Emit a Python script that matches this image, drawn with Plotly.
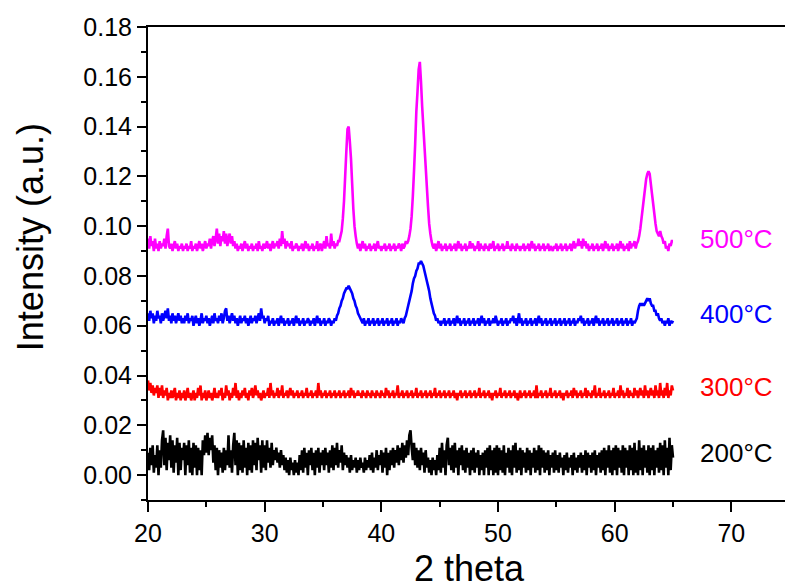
import numpy as np
import plotly.graph_objects as go

# 2-theta sampling grid: 20.0 .. 65.0 deg in 0.1 deg steps
two_theta = np.round(np.linspace(20.0, 65.0, 451), 1)

# XRD intensities (a.u.), one row per degree
i_200 = [
    .009, .002, .011, .004, .012, .001, .008, .003, .012, .000,
    .010, .003, .014, .018, .004, .015, .002, .013, .006, .016,
    .003, .014, .001, .012, .005, .015, .000, .013, .002, .011,
    .006, .013, .000, .012, .004, .014, .001, .011, .000, .013,
    .003, .012, .000, .011, .002, .010, .000, .014, .008, .016,
    .009, .017, .008, .015, .010, .016, .005, .012, .002, .011,
    .000, .010, .003, .009, .001, .011, .002, .010, .004, .016,
    .003, .010, .001, .012, .017, .004, .014, .000, .013, .002,
    .012, .001, .014, .003, .011, .000, .013, .002, .012, .001,
    .014, .004, .013, .002, .015, .006, .012, .001, .014, .003,
    .012, .002, .014, .005, .011, .003, .013, .004, .010, .006,
    .011, .005, .009, .003, .010, .004, .008, .002, .007, .001,
    .006, .000, .007, .002, .005, .000, .006, .001, .005, .000,
    .008, .002, .010, .001, .011, .003, .009, .000, .010, .004,
    .011, .002, .009, .000, .010, .003, .011, .001, .009, .004,
    .010, .002, .011, .004, .009, .001, .010, .003, .012, .002,
    .011, .004, .013, .003, .010, .005, .012, .002, .009, .004,
    .008, .003, .007, .001, .008, .002, .006, .003, .007, .001,
    .006, .002, .007, .003, .005, .001, .007, .002, .006, .003,
    .008, .002, .009, .001, .007, .003, .010, .002, .008, .004,
    .010, .001, .009, .003, .011, .000, .009, .002, .010, .004,
    .011, .003, .010, .005, .012, .004, .011, .006, .013, .005,
    .012, .007, .014, .008, .016, .018, .011, .006, .013, .004,
    .011, .003, .010, .002, .011, .004, .009, .001, .010, .003,
    .007, .001, .006, .000, .007, .002, .006, .000, .008, .002,
    .011, .001, .013, .003, .010, .000, .012, .015, .004, .011,
    .002, .012, .001, .013, .003, .010, .000, .011, .004, .012,
    .002, .010, .001, .011, .003, .009, .000, .010, .002, .011,
    .001, .009, .003, .010, .000, .008, .002, .009, .000, .010,
    .003, .011, .000, .012, .002, .010, .000, .011, .001, .012,
    .000, .011, .002, .010, .001, .012, .000, .009, .003, .011,
    .001, .010, .000, .012, .003, .013, .001, .010, .002, .011,
    .000, .010, .003, .009, .001, .011, .002, .010, .000, .009,
    .003, .011, .001, .010, .002, .012, .000, .011, .003, .010,
    .001, .009, .002, .010, .000, .008, .003, .009, .001, .010,
    .002, .008, .001, .009, .003, .007, .000, .008, .002, .009,
    .001, .007, .003, .008, .000, .009, .002, .007, .001, .008,
    .003, .009, .001, .008, .002, .010, .000, .009, .003, .008,
    .001, .009, .002, .010, .000, .008, .003, .009, .001, .010,
    .002, .011, .000, .010, .003, .012, .001, .010, .000, .011,
    .002, .012, .000, .011, .003, .010, .001, .012, .000, .011,
    .003, .010, .000, .012, .002, .011, .000, .013, .001, .010,
    .000, .014, .002, .011, .000, .012, .003, .010, .001, .012,
    .000, .011, .002, .012, .000, .010, .003, .011, .001, .013,
    .002, .012, .000, .014, .003, .011, .000, .015, .002, .012,
    .007,
]

i_300 = [
    .038, .034, .037, .033, .036, .032, .035, .033, .036, .031,
    .035, .032, .036, .031, .034, .032, .035, .030, .033, .031,
    .034, .031, .033, .035, .030, .033, .031, .034, .030, .033,
    .031, .034, .030, .032, .035, .031, .033, .030, .032, .034,
    .030, .033, .031, .035, .032, .036, .030, .033, .031, .034,
    .030, .032, .034, .031, .033, .030, .032, .035, .031, .033,
    .031, .034, .032, .035, .030, .033, .031, .036, .032, .034,
    .030, .033, .031, .035, .032, .037, .031, .034, .030, .033,
    .031, .034, .032, .035, .031, .033, .030, .034, .032, .035,
    .031, .033, .036, .032, .034, .031, .033, .030, .032, .034,
    .031, .033, .032, .035, .031, .037, .032, .034, .031, .033,
    .032, .035, .031, .034, .032, .036, .031, .033, .032, .034,
    .031, .033, .035, .032, .034, .031, .033, .032, .034, .031,
    .033, .032, .034, .031, .033, .032, .035, .031, .033, .032,
    .034, .031, .033, .032, .034, .031, .037, .032, .034, .031,
    .033, .032, .034, .031, .033, .032, .034, .031, .033, .032,
    .034, .031, .033, .032, .034, .031, .033, .032, .034, .031,
    .033, .032, .034, .031, .035, .032, .034, .031, .033, .032,
    .034, .032, .033, .031, .034, .032, .033, .031, .034, .032,
    .033, .031, .034, .032, .033, .031, .034, .032, .033, .031,
    .034, .032, .033, .031, .035, .032, .034, .031, .033, .032,
    .034, .031, .033, .032, .036, .031, .033, .032, .034, .031,
    .033, .032, .034, .031, .033, .032, .034, .031, .033, .032,
    .035, .031, .033, .032, .034, .031, .033, .032, .034, .031,
    .033, .032, .034, .031, .033, .032, .035, .031, .033, .032,
    .034, .031, .033, .032, .034, .031, .033, .032, .034, .031,
    .033, .032, .034, .031, .033, .030, .033, .032, .034, .031,
    .033, .032, .034, .031, .033, .032, .034, .031, .033, .032,
    .034, .031, .033, .032, .035, .031, .033, .032, .034, .031,
    .033, .032, .034, .031, .033, .030, .033, .032, .034, .031,
    .033, .032, .035, .031, .033, .032, .034, .031, .033, .032,
    .034, .031, .033, .032, .034, .031, .033, .030, .032, .034,
    .031, .033, .032, .034, .031, .033, .032, .034, .031, .033,
    .032, .034, .031, .036, .031, .033, .032, .034, .031, .033,
    .032, .034, .031, .033, .032, .035, .031, .033, .032, .034,
    .031, .033, .032, .034, .031, .033, .030, .033, .032, .034,
    .031, .033, .032, .034, .031, .035, .032, .034, .031, .033,
    .032, .034, .031, .033, .032, .035, .031, .034, .032, .033,
    .031, .034, .032, .036, .031, .033, .032, .035, .031, .033,
    .032, .034, .031, .033, .032, .034, .031, .033, .032, .035,
    .031, .033, .032, .034, .031, .036, .032, .034, .031, .033,
    .032, .035, .031, .034, .032, .033, .031, .035, .032, .034,
    .031, .033, .035, .032, .034, .031, .036, .032, .034, .031,
    .033, .035, .032, .034, .031, .036, .032, .034, .031, .037,
    .032, .034, .031, .035, .032, .037, .031, .034, .032, .036,
    .034,
]

i_400 = [
    .065, .062, .066, .063, .065, .061, .064, .062, .066, .063,
    .064, .061, .065, .062, .064, .066, .063, .067, .062, .064,
    .061, .065, .062, .064, .061, .063, .065, .062, .064, .061,
    .063, .061, .064, .062, .065, .061, .063, .062, .064, .060,
    .062, .064, .061, .063, .060, .062, .065, .061, .063, .062,
    .064, .061, .063, .060, .062, .064, .061, .065, .062, .063,
    .061, .064, .062, .065, .061, .063, .066, .067, .062, .064,
    .061, .063, .065, .062, .064, .061, .063, .060, .062, .064,
    .061, .063, .062, .064, .061, .063, .060, .062, .064, .061,
    .063, .062, .064, .061, .063, .065, .062, .067, .063, .064,
    .061, .063, .062, .064, .060, .062, .061, .063, .060, .062,
    .061, .063, .060, .062, .064, .061, .063, .060, .062, .061,
    .063, .060, .062, .061, .063, .060, .062, .064, .061, .063,
    .060, .062, .061, .063, .060, .062, .061, .063, .062, .060,
    .062, .061, .063, .060, .062, .064, .061, .063, .060, .062,
    .061, .063, .060, .062, .061, .063, .062, .060, .062, .061,
    .063, .062, .064, .065, .067, .068, .070, .071, .073, .074,
    .075, .075, .076, .075, .074, .073, .071, .070, .068, .067,
    .065, .064, .063, .062, .061, .063, .060, .062, .061, .063,
    .060, .062, .061, .063, .060, .062, .061, .063, .060, .062,
    .061, .063, .060, .062, .061, .063, .060, .062, .061, .063,
    .060, .062, .061, .063, .060, .062, .061, .063, .062, .061,
    .063, .064, .066, .068, .070, .072, .074, .077, .079, .080,
    .082, .083, .085, .085, .086, .085, .084, .082, .080, .078,
    .076, .074, .071, .069, .067, .065, .064, .062, .063, .061,
    .062, .060, .062, .061, .063, .060, .062, .061, .063, .060,
    .062, .061, .063, .060, .062, .064, .061, .063, .060, .062,
    .061, .063, .060, .062, .061, .063, .060, .062, .061, .063,
    .060, .062, .061, .063, .060, .062, .064, .061, .063, .060,
    .062, .061, .063, .060, .062, .061, .063, .061, .064, .062,
    .060, .062, .061, .063, .060, .062, .061, .063, .060, .062,
    .061, .063, .062, .064, .061, .063, .060, .062, .065, .061,
    .063, .060, .062, .061, .063, .060, .062, .061, .063, .060,
    .062, .061, .063, .060, .062, .064, .061, .063, .060, .062,
    .061, .063, .060, .062, .061, .063, .060, .062, .061, .063,
    .060, .062, .061, .063, .060, .062, .061, .063, .060, .062,
    .061, .063, .060, .062, .061, .063, .060, .062, .061, .063,
    .062, .064, .061, .063, .060, .062, .061, .063, .060, .062,
    .061, .063, .060, .062, .064, .061, .063, .060, .062, .061,
    .063, .060, .062, .061, .063, .060, .062, .061, .063, .060,
    .062, .061, .063, .060, .062, .061, .063, .060, .062, .061,
    .063, .060, .062, .061, .063, .060, .062, .061, .062, .063,
    .066, .068, .069, .068, .069, .068, .069, .070, .071, .070,
    .071, .069, .068, .068, .066, .066, .064, .065, .063, .062,
    .063, .061, .062, .060, .062, .061, .063, .060, .062, .061,
    .062,
]

i_500 = [
    .095, .091, .096, .092, .094, .090, .095, .091, .093, .090,
    .094, .091, .093, .092, .095, .091, .096, .099, .092, .091,
    .093, .090, .092, .094, .091, .093, .090, .092, .091, .093,
    .090, .092, .091, .093, .090, .092, .091, .094, .090, .092,
    .091, .093, .090, .092, .094, .091, .093, .090, .092, .094,
    .091, .093, .092, .095, .091, .094, .096, .092, .095, .099,
    .093, .097, .092, .096, .094, .098, .093, .097, .092, .095,
    .097, .093, .096, .092, .094, .091, .093, .090, .092, .091,
    .093, .090, .092, .094, .091, .093, .090, .092, .091, .093,
    .090, .092, .091, .093, .090, .094, .091, .092, .090, .093,
    .091, .092, .094, .091, .093, .090, .092, .094, .091, .093,
    .092, .094, .091, .095, .092, .098, .093, .095, .091, .094,
    .092, .093, .091, .094, .090, .092, .091, .093, .092, .090,
    .092, .091, .093, .090, .092, .094, .091, .093, .090, .092,
    .091, .093, .090, .092, .091, .094, .090, .092, .093, .090,
    .092, .094, .091, .096, .092, .093, .091, .097, .092, .094,
    .091, .093, .092, .094, .094, .096, .098, .103, .110, .120,
    .130, .139, .140, .134, .127, .117, .107, .100, .096, .093,
    .091, .093, .090, .092, .094, .091, .093, .090, .092, .091,
    .093, .090, .092, .091, .093, .090, .092, .094, .091, .092,
    .090, .092, .091, .093, .090, .092, .091, .093, .090, .092,
    .091, .093, .090, .092, .091, .093, .092, .090, .093, .091,
    .092, .094, .093, .094, .096, .099, .104, .112, .122, .133,
    .146, .154, .163, .166, .158, .148, .140, .132, .124, .116,
    .108, .101, .097, .094, .092, .091, .093, .090, .092, .094,
    .091, .093, .090, .092, .091, .093, .090, .092, .091, .093,
    .090, .092, .091, .093, .090, .092, .094, .091, .093, .090,
    .092, .091, .093, .090, .092, .091, .094, .091, .093, .092,
    .090, .092, .091, .094, .090, .093, .091, .092, .090, .093,
    .091, .092, .090, .093, .091, .092, .094, .090, .092, .091,
    .093, .090, .092, .091, .093, .090, .092, .091, .094, .091,
    .092, .090, .093, .091, .092, .090, .093, .091, .092, .090,
    .092, .091, .093, .090, .092, .091, .093, .090, .092, .094,
    .091, .093, .090, .092, .091, .093, .090, .092, .091, .093,
    .090, .092, .091, .093, .090, .092, .091, .090, .092, .091,
    .093, .090, .092, .091, .093, .090, .092, .091, .093, .090,
    .092, .091, .093, .090, .092, .094, .091, .093, .092, .095,
    .092, .094, .091, .095, .092, .094, .091, .093, .090, .092,
    .091, .093, .090, .092, .091, .093, .090, .092, .091, .093,
    .090, .092, .094, .091, .093, .090, .092, .091, .093, .090,
    .092, .091, .093, .090, .092, .094, .091, .093, .090, .092,
    .091, .093, .090, .094, .091, .093, .092, .094, .091, .093,
    .094, .096, .099, .103, .107, .111, .115, .119, .121, .122,
    .121, .117, .113, .109, .105, .101, .098, .097, .096, .098,
    .096, .095, .093, .094, .091, .092, .090, .093, .092, .094,
    .094,
]

series_names = ["200℃", "300℃", "400℃", "500℃"]
series_colors = ["#000000", "#FF0000", "#0000FF", "#FF00FF"]
series_data = [i_200, i_300, i_400, i_500]
label_x = 67.1
label_y = [0.009, 0.0355, 0.0648, 0.0949]

FONT = "Liberation Sans, Arial, sans-serif"

fig = go.Figure()
for name, color, y in zip(series_names, series_colors, series_data):
    fig.add_trace(go.Scatter(
        x=two_theta, y=y, mode="lines", name=name,
        line=dict(color=color, width=2.6, simplify=False),
        showlegend=False,
    ))

for name, color, yv in zip(series_names, series_colors, label_y):
    fig.add_annotation(
        x=label_x, y=yv, xref="x", yref="y", text=name.replace("℃", "°C"),
        showarrow=False, xanchor="left", yanchor="middle",
        font=dict(family=FONT, size=26, color=color),
    )

# axis titles
fig.add_annotation(
    x=-0.185, y=0.556, xref="paper", yref="paper", text="Intensity (a.u.)",
    textangle=-90, showarrow=False, xanchor="center", yanchor="middle",
    font=dict(family=FONT, size=36, color="black"),
)
fig.add_annotation(
    x=0.504, y=-0.144, xref="paper", yref="paper", text="2 theta",
    showarrow=False, xanchor="center", yanchor="middle",
    font=dict(family=FONT, size=36, color="black"),
)

axis_common = dict(
    showline=True, linecolor="black", linewidth=2,
    ticks="outside", tickcolor="black", tickwidth=2,
    showgrid=False, zeroline=False,
    tickfont=dict(family=FONT, size=25, color="black"),
)

fig.update_xaxes(
    range=[20, 74.6], dtick=10, tick0=20, ticklen=10, mirror=True,
    minor=dict(dtick=5, tick0=20, ticks="outside", ticklen=5, tickwidth=2, tickcolor="black"),
    **axis_common,
)
fig.update_yaxes(
    range=[-0.01, 0.18], dtick=0.02, tick0=0, ticklen=9, tickformat=".2f",
    minor=dict(dtick=0.01, tick0=0, ticks="outside", ticklen=5, tickwidth=2, tickcolor="black"),
    **axis_common,
)

fig.update_layout(
    width=785, height=588,
    margin=dict(l=148, r=0, t=27, b=88),
    paper_bgcolor="white", plot_bgcolor="white",
)

fig.write_html("out.html")
